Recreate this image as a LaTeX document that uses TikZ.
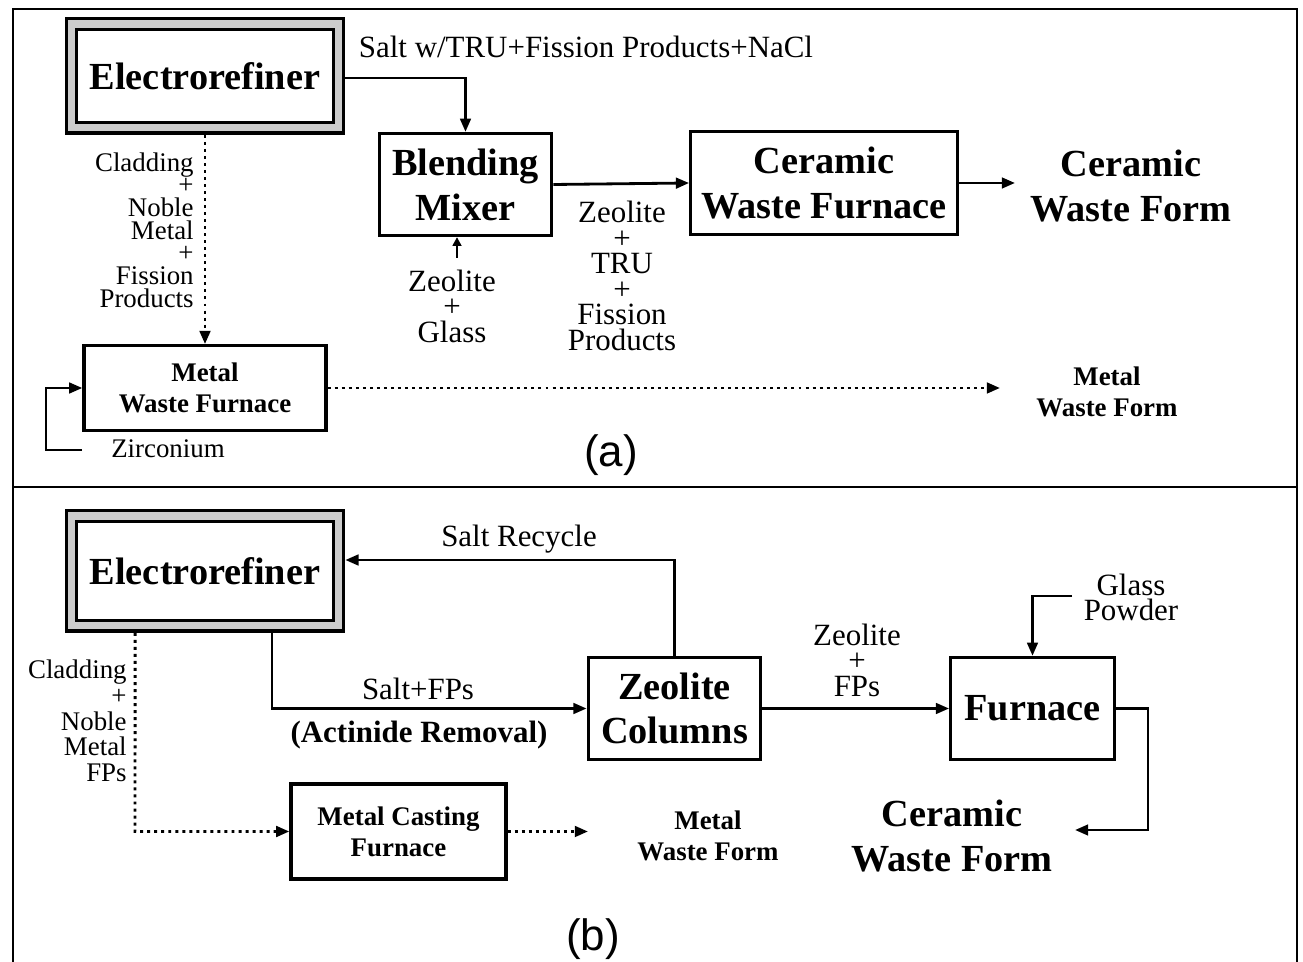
\documentclass[tikz,border=0pt]{standalone}
\usepackage{fontspec}
\setmainfont{Liberation Serif}
\setsansfont{Liberation Sans}
\usetikzlibrary{arrows.meta,calc}
\newcommand\fBig{\fontsize{21.8}{25.5}\selectfont\bfseries}
\newcommand\fMed{\fontsize{17.6}{14.5}\selectfont}
\newcommand\fMedB{\fontsize{17.6}{14.5}\selectfont\bfseries}
\newcommand\fSmall{\fontsize{15.3}{12.9}\selectfont}
\newcommand\fSmallB{\fontsize{15.3}{17.6}\selectfont\bfseries}
\newcommand\fCap{\sffamily\fontsize{25}{28}\selectfont}
\tikzset{
  box/.style={draw, line width=1.9pt, inner sep=0pt, align=center, font=\fBig},
  erbox/.style={draw, line width=1.9pt, double=gray!40, double distance=4pt,
     outer sep=3.9pt, inner sep=0pt, minimum width=5.34cm, font=\fBig},
  conn/.style={line width=1.6pt, -{Triangle[length=7.5pt,width=6pt]}},
  dotconn/.style={line width=1.7pt, dash pattern=on 1.7pt off 2.3pt, -{Triangle[length=7.5pt,width=6pt]}},
  lbl/.style={inner sep=0pt, align=center},
  frame/.style={line width=1.1pt}
}
\begin{document}
\begin{tikzpicture}[x=0.02cm, y=-0.02cm]
\useasboundingbox (0,0) rectangle (1303,962);
% frame
\draw[frame] (13,962) -- (13,9) -- (1297,9) -- (1297,962);
\draw[frame] (13,487) -- (1297,487);

% ---------------- (a) ----------------
\node[erbox, minimum height=2.08cm] (er1) at (205,76) {Electrorefiner};
\node[box, minimum width=3.45cm, minimum height=2.04cm] (blend) at (465.5,184.5) {Blending\\Mixer};
\node[box, minimum width=5.33cm, minimum height=2.05cm] (cwf) at (824,183) {Ceramic\\Waste Furnace};
\node[lbl, font=\fBig] (cwform) at (1131,186) {Ceramic\\Waste Form};
\coordinate (cwfend) at (1015,183);

\node[lbl, font=\fMed] (saltlbl) at (586,47) {Salt w/TRU+Fission Products+NaCl};
\draw[conn] ([yshift=-0.04cm]er1.east) -| (blend.north);
\draw[conn] (blend.east) -- (cwf.west);
\draw[conn] (cwf.east) -- (cwfend);

\coordinate (zg1) at (457,258);
\draw[line width=1.6pt, -{Triangle[length=5pt,width=5pt]}] (zg1) -- (blend.south -| zg1);
\node[lbl, font=\fMed] (zglbl) at (452,306) {Zeolite\\+\\Glass};
\node[lbl, font=\fMed] (ztflbl) at (622,276) {Zeolite\\+\\TRU\\+\\Fission\\Products};

\node[lbl, font=\fSmall, align=right, anchor=east] (cladA) at (194,230) {Cladding\\+\\Noble\\Metal\\+\\Fission\\Products};

\node[box, font=\fSmallB, minimum width=4.84cm, minimum height=1.69cm] (mwf) at (205,388) {Metal\\Waste Furnace};
\draw[dotconn] (er1.south -| mwf.north) -- (mwf.north);

\coordinate (z1) at (82,450);
\coordinate (zc) at (46,450);
\draw[conn] (z1) -- (zc) |- (mwf.west);
\node[lbl, font=\fSmall] (zirc) at (168,449) {Zirconium};

\coordinate (mwfend) at (1000,388);
\draw[dotconn] (mwf.east) -- (mwfend);
\node[lbl, font=\fSmallB] (mwform) at (1107,392) {Metal\\Waste Form};

\node[lbl, font=\fCap] (capa) at (611,455) {(a)};

% ---------------- (b) ----------------
\node[erbox, minimum height=2.2cm] (er2) at (205,571) {Electrorefiner};
\node[box, minimum width=3.45cm, minimum height=2.04cm] (zc2) at (674.5,708.5) {Zeolite\\Columns};
\node[box, minimum width=3.27cm, minimum height=2.04cm] (furn) at (1032.5,708.5) {Furnace};

\draw[conn] (zc2.north) |- ([yshift=0.22cm]er2.east);
\node[lbl, font=\fMed] (srlbl) at (519,539) {Salt Recycle};

\draw[conn] ([xshift=1.34cm]er2.south) |- (zc2.west);
\node[lbl, font=\fMed] (sfplbl) at (418,689) {Salt+FPs};
\node[lbl, font=\fMedB] (actlbl) at (419,735) {(Actinide Removal)};

\draw[conn] (zc2.east) -- (furn.west);
\node[lbl, font=\fMed] (zfplbl) at (857,660) {Zeolite\\+\\FPs};

\node[lbl, font=\fontsize{17.6}{14.2}\selectfont] (gplbl) at (1131,597) {Glass\\Powder};
\coordinate (gp) at (1072,596);
\draw[conn] (gp) -| (furn.north);

\coordinate (fcorner) at (1148,830);
\coordinate (cwf2end) at (1075,830);
\draw[conn] (furn.east) -| (fcorner) -- (cwf2end);
\node[lbl, font=\fBig] (cwform2) at (952,836) {Ceramic\\Waste Form};

\node[lbl, font=\fontsize{15.3}{14.6}\selectfont, align=right, anchor=east] (cladB) at (127,721) {Cladding\\+\\Noble\\Metal\\FPs};

\node[box, font=\fSmallB, minimum width=4.3cm, minimum height=1.9cm] (mcf) at (398.5,831.5) {Metal Casting\\Furnace};
\coordinate (dcorner) at (135,831.5);
\draw[dotconn] ([xshift=-1.4cm]er2.south) -- (dcorner) -- (mcf.west);
\coordinate (mcfend) at (588,831.5);
\draw[dotconn] (mcf.east) -- (mcfend);
\node[lbl, font=\fSmallB] (mwform2) at (708,836) {Metal\\Waste Form};

\node[lbl, font=\fCap] (capb) at (593,939) {(b)};
\end{tikzpicture}
\end{document}
